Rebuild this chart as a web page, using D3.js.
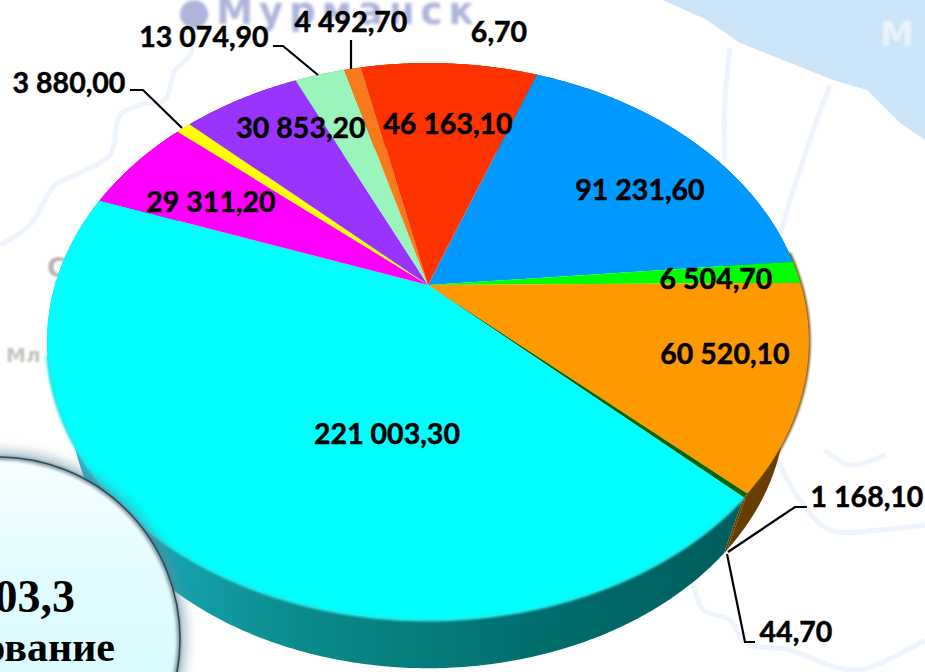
<!DOCTYPE html>
<html><head><meta charset="utf-8">
<script src="https://cdn.jsdelivr.net/npm/d3@7"></script>
<style>html,body{margin:0;padding:0;background:#fff;overflow:hidden}svg{display:block}</style>
</head><body><div id="chart"></div>
<script>
// ---- data ----
const values = [91231.6, 6504.7, 60520.1, 1168.1, 44.7, 221003.3, 29311.2, 3880.0, 30853.2, 13074.9, 4492.7, 46163.1, 6.7];
const labels = ["91 231,60","6 504,70","60 520,10","1 168,10","44,70","221 003,30","29 311,20","3 880,00","30 853,20","13 074,90","4 492,70","46 163,10","6,70"];
const colors = ["#0099ff","#00ff00","#ff9900","#006600","#4d4d00","#00ffff","#ff00ff","#ffff00","#9933ff","#99f5bb","#f97a1a","#ff3300","#ff3300"];
// ---- layout ----
const labelCentres = [[640,190],[716,279],[725,354],[867,497],[796,632],[387,434],[211,202],[69,83],[301,128],[204,37],[351,22],[448,124],[499,32]];
const leaders = [
  [[807,507],[795,507],[728,552]],
  [[755,642],[745,642],[727,554]],
  [[130,90],[143,90],[182,128]],
  [[273,46],[283,46],[318,75]],
  [[351,40],[351,69]]
];
const W = 925, H = 672;
const apex = [428,285], persp = 0.2029, ax = 373, by = 267;
const startDeg = 20.3, depthScale = 0.9375, vanishY = 1392;
const svg = d3.select("#chart").append("svg").attr("width",W).attr("height",H);
const defs = svg.append("defs");

const blur = (id,s)=>defs.append("filter").attr("id",id).attr("x","-30%").attr("y","-30%").attr("width","160%").attr("height","160%").append("feGaussianBlur").attr("stdDeviation",s);
blur("b1",1); blur("b2",1.8); blur("b6",6);

function grad(id,stops){
  const g=defs.append("linearGradient").attr("id",id).attr("gradientUnits","userSpaceOnUse").attr("x1",60).attr("x2",760).attr("y1",0).attr("y2",0);
  stops.forEach(([o,c])=>g.append("stop").attr("offset",o).attr("stop-color",c));
}
grad("sideCyan",[[0,"#2cb4d0"],[0.17,"#14a0ac"],[0.35,"#0b8a8a"],[0.7,"#006c6c"],[1,"#005c5c"]]);
const cg=defs.append("linearGradient").attr("id","circleFill").attr("x1",0).attr("x2",0).attr("y1",0).attr("y2",1);
[[0,"#f8feff"],[0.3,"#e4fcff"],[1,"#c9f8ff"]].forEach(([o,c])=>cg.append("stop").attr("offset",o).attr("stop-color",c));

// ---- background map ----
const bg = svg.append("g");
const line = d3.line();
const curve = d3.line().curve(d3.curveCatmullRom);
const water = [[663,0],[707,20],[740,43],[783,60],[833,80],[867,90],[900,123],[925,140],[925,0]];
bg.append("path").attr("d",line(water)+"Z").attr("fill","#cce5f9");
const mapLines = [
 [[0,245],[30,225],[55,185],[75,175],[110,155],[120,115],[140,105],[165,100],[175,70],[190,55],[195,20]],
 [[730,48],[725,100],[725,160]],
 [[830,85],[815,125],[800,170],[790,200],[780,235]],
 [[693,583],[703,610],[730,620],[745,643],[790,650],[830,665],[860,670],[925,640]],
 [[770,445],[800,500],[830,530],[880,530],[925,525]],
 [[825,450],[850,465],[885,455]]
];
bg.selectAll("path.m").data(mapLines).join("path").attr("class","m").attr("d",curve).attr("fill","none").attr("stroke","#edf4fc").attr("stroke-width",5);
bg.append("text").attr("x",178).attr("y",24).attr("font-family","DejaVu Sans").attr("font-weight",700).attr("font-size",37).attr("letter-spacing",6).attr("fill","#aeb4da").attr("filter","url(#b2)").text("●Мурманск");
bg.append("text").attr("x",880).attr("y",46).attr("font-family","DejaVu Sans").attr("font-weight",700).attr("font-size",34).attr("fill","#e8f3fc").attr("filter","url(#b1)").text("М");
bg.append("text").attr("x",47).attr("y",277).attr("font-family","DejaVu Sans").attr("font-weight",700).attr("font-size",26).attr("fill","#b5b3ad").attr("filter","url(#b1)").text("С");
bg.append("text").attr("x",6).attr("y",362).attr("font-family","DejaVu Sans").attr("font-weight",700).attr("font-size",20).attr("fill","#c5c3bd").attr("filter","url(#b1)").text("Мл");

// ---- pie through a perspective projection ----
const pie = d3.pie().sort(null).value(d=>d)
  .startAngle(startDeg*Math.PI/180).endAngle((startDeg+360)*Math.PI/180);
const arcs = pie(values);
function project(a){
  const X=Math.sin(a), Y=Math.cos(a), w=1+persp*Y;
  return [apex[0]+ax*X/w, apex[1]-by*Y/w];
}
function lower(p){ return [apex[0]+depthScale*(p[0]-apex[0]), vanishY-depthScale*(vanishY-p[1])]; }
const rim = (a0,a1)=>{
  const n=Math.max(2,Math.ceil((a1-a0)/0.01));
  return d3.range(n+1).map(i=>project(a0+(a1-a0)*i/n));
};
const sideFills = arcs.map((d,i)=> i===5 ? "url(#sideCyan)" : (i>=2&&i<=4 ? "#663f00" : d3.color(colors[i]).darker(1.3).formatHex()));

const gSide = svg.append("g");
gSide.selectAll("path").data(arcs).join("path")
  .attr("d",d=>{const t=rim(d.startAngle,d.endAngle); return line(t.concat(t.map(lower).reverse()))+"Z";})
  .attr("fill",(d,i)=>sideFills[i]);
// dark edge hugging the right side of the disc, just outside the top face
svg.append("path").attr("d",line(rim(arcs[1].startAngle-0.03,arcs[3].startAngle))).attr("fill","none").attr("stroke","#6b4a10").attr("stroke-width",3.5).attr("stroke-linecap","round").attr("filter","url(#b1)").attr("opacity",.9);
const gTop = svg.append("g");
gTop.selectAll("path").data(arcs).join("path")
  .attr("d",d=>line([apex].concat(rim(d.startAngle,d.endAngle)))+"Z")
  .attr("fill",(d,i)=>colors[i]);
// soft rim on the front of the cyan slice
svg.append("path").attr("d",line(rim(arcs[5].startAngle,arcs[5].endAngle-0.6))).attr("fill","none").attr("stroke","#22e8e8").attr("stroke-width",3).attr("filter","url(#b1)");

// ---- inset circle ----
const cx=-2, cy=639, cr=182;
svg.append("circle").attr("cx",cx+1).attr("cy",cy-1).attr("r",cr+5).attr("fill","#5d8c9c").attr("opacity",.55).attr("filter","url(#b6)");
svg.append("circle").attr("cx",cx).attr("cy",cy).attr("r",cr).attr("fill","url(#circleFill)");
svg.append("circle").attr("cx",cx).attr("cy",cy).attr("r",cr-1).attr("fill","none").attr("stroke","#5b7480").attr("stroke-width",4).attr("filter","url(#b2)").attr("opacity",.7);
svg.append("circle").attr("cx",cx).attr("cy",cy).attr("r",cr).attr("fill","none").attr("stroke","#2e4a58").attr("stroke-width",1.6);
svg.append("text").attr("x",75).attr("y",612).attr("text-anchor","end").attr("font-family","Liberation Serif").attr("font-weight",700).attr("font-size",46).attr("fill","#000").text("03,3");
svg.append("text").attr("x",115).attr("y",661).attr("text-anchor","end").attr("font-family","Liberation Serif").attr("font-weight",700).attr("font-size",42).attr("fill","#000").text("ование");

// ---- leaders and labels ----
svg.append("g").selectAll("path").data(leaders).join("path").attr("d",line).attr("fill","none").attr("stroke","#000").attr("stroke-width",2.2);
svg.append("g").selectAll("text").data(labels).join("text")
  .attr("x",(d,i)=>labelCentres[i][0]).attr("y",(d,i)=>labelCentres[i][1])
  .attr("dy","0.36em").attr("text-anchor","middle")
  .attr("font-family","Lato").attr("font-weight",700).attr("font-size",28.5)
  .attr("stroke","#000").attr("stroke-width",0.5)
  .attr("fill","#000").text(d=>d);
</script></body></html>
